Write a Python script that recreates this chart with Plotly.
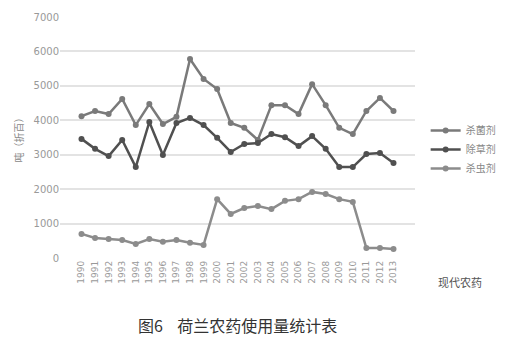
import plotly.graph_objects as go

years = [str(y) for y in range(1990, 2014)]
fungicide = [4120, 4270, 4180, 4620, 3860, 4470, 3890, 4100, 5780, 5200, 4910, 3920,
             3780, 3430, 4440, 4440, 4180, 5050, 4440, 3780, 3600, 4270, 4650, 4270]
herbicide = [3460, 3170, 2960, 3430, 2640, 3950, 2990, 3920, 4070, 3860, 3490, 3080,
             3310, 3340, 3600, 3510, 3250, 3540, 3170, 2640, 2640, 3020, 3050, 2760]
insecticide = [700, 580, 550, 520, 410, 550, 470, 520, 440, 380, 1710, 1280,
               1450, 1510, 1420, 1660, 1710, 1920, 1860, 1710, 1630, 290, 290, 260]
names = ["杀菌剂", "除草剂", "杀虫剂"]
y_ticks = [0, 1000, 2000, 3000, 4000, 5000, 6000, 7000]

colors = ["#7a7a7a", "#505050", "#8c8c8c"]
font_cjk = "Noto Sans CJK SC"

fig = go.Figure()
for name, vals, c in zip(names, [fungicide, herbicide, insecticide], colors):
    fig.add_trace(go.Scatter(
        x=years, y=vals, name=name, mode="lines+markers",
        line=dict(color=c, width=2.5),
        marker=dict(color=c, size=6),
    ))

fig.update_layout(
    width=513, height=355,
    margin=dict(l=60, r=94, t=17, b=97),
    paper_bgcolor="white", plot_bgcolor="white",
    font=dict(family=font_cjk, color="#888888", size=10),
    legend=dict(x=1.03, y=0.45, xanchor="left", yanchor="middle",
                font=dict(size=10, color="#888888", family=font_cjk),
                tracegroupgap=2, itemwidth=30),
    xaxis=dict(type="category", tickangle=-90, showgrid=False, showline=False,
               ticks="", tickfont=dict(size=9, color="#999999", family="DejaVu Sans")),
    yaxis=dict(range=[0, 7000], tickvals=y_ticks, showgrid=True, gridcolor="#e3e3e3",
               gridwidth=1.5, zeroline=False, showline=False,
               tickfont=dict(size=10, color="#999999", family="DejaVu Sans"),
               title=dict(text="吨（折百）", font=dict(size=10, color="#888888", family=font_cjk),
                          standoff=8)),
    showlegend=True,
)

fig.add_annotation(text="图6    荷兰农药使用量统计表", xref="paper", yref="paper",
                   x=0.5, y=-0.22, xanchor="center", yanchor="top", showarrow=False,
                   font=dict(size=16, color="#333333", family=font_cjk))
fig.add_annotation(text="现代农药", xref="paper", yref="paper",
                   x=1.06, y=-0.1, xanchor="left", yanchor="middle", showarrow=False,
                   font=dict(size=11, color="#555555", family=font_cjk))

fig.write_html("out.html")
